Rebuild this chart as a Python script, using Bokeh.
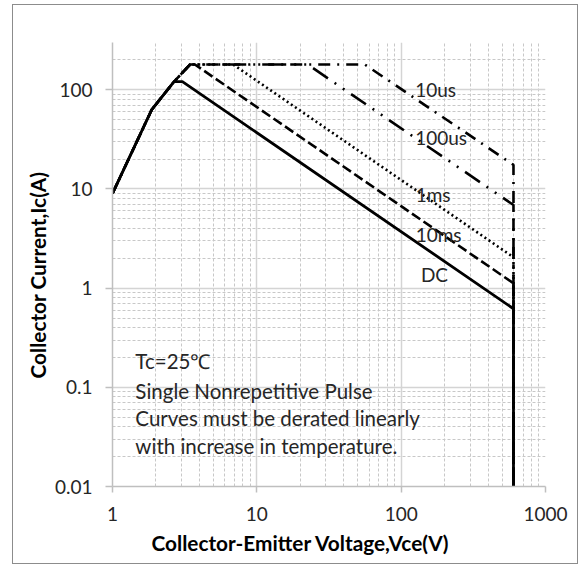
from bokeh.plotting import figure
from bokeh.models import FixedTicker, CustomJSTickFormatter, Title
from bokeh.core.properties import value
from bokeh.embed import file_html
from bokeh.resources import INLINE

# ---- data ----
x_major = [1, 10, 100, 1000]
y_major = [0.01, 0.1, 1, 10, 100]

dc_vce = [1, 1.87, 2.67, 3.05, 600, 600]
dc_ic = [9.0, 63, 121, 121, 0.62, 0.01]

ms10_vce = [1, 1.87, 2.67, 3.45, 3.72, 600, 600]
ms10_ic = [9.0, 63, 121, 180, 180, 1.12, 0.01]

ms1_vce = [1, 1.87, 2.67, 3.45, 6.85, 600, 600]
ms1_ic = [9.0, 63, 121, 180, 180, 2.05, 0.01]

us100_vce = [1, 1.87, 2.67, 3.45, 22.5, 600, 600]
us100_ic = [9.0, 63, 121, 180, 180, 6.9, 0.01]

us10_vce = [1, 1.87, 2.67, 3.45, 56, 600, 600]
us10_ic = [9.0, 63, 121, 180, 180, 17.5, 0.01]

curve_labels = ["10us", "100us", "1ms", "10ms", "DC"]
label_vce = [125, 125, 126, 126, 137]
label_ic = [100, 32.7, 8.7, 3.5, 1.38]

notes = ["Tc=25\u2103", "Single Nonrepetitive Pulse",
         "Curves must be derated linearly", "with increase in temperature."]
notes_ic = [0.185, 0.092, 0.0494, 0.0256]

x_title = "Collector-Emitter Voltage,Vce(V)"
y_title = "Collector Current,Ic(A)"

FONT = "Lato"

p = figure(width=566, height=560, x_axis_type="log", y_axis_type="log",
           x_range=(1, 1000), y_range=(0.01, 300),
           output_backend="svg", toolbar_location=None,
           min_border_left=99, min_border_right=34, min_border_top=37,
           min_border_bottom=79)
p.styles = {"margin-left": "12px", "margin-top": "4px",
            "border": "1px solid #8c8c8c"}
p.outline_line_color = None
p.background_fill_color = "white"
p.border_fill_color = "white"

x_minor = [m * d for d in [1, 10, 100] for m in range(2, 10)]
y_minor = [m * d for d in [0.01, 0.1, 1, 10, 100] for m in range(2, 10) if m * d <= 300.0001]

p.xaxis.ticker = FixedTicker(ticks=x_major, minor_ticks=x_minor)
p.yaxis.ticker = FixedTicker(ticks=y_major, minor_ticks=y_minor)
fmt = "return String(+tick.toPrecision(6));"
p.xaxis.formatter = CustomJSTickFormatter(code=fmt)
p.yaxis.formatter = CustomJSTickFormatter(code=fmt)

for ax in (p.xaxis, p.yaxis):
    ax.axis_line_color = "#bfbfbf"
    ax.axis_line_width = 1.5
    ax.major_tick_line_color = "#bfbfbf"
    ax.major_tick_line_width = 1.5
    ax.major_tick_in = 0
    ax.minor_tick_line_color = None
    ax.major_label_text_font = FONT
    ax.major_label_text_font_size = "19px"
    ax.major_label_text_color = "#262626"

p.xaxis.major_tick_out = 6
p.yaxis.major_tick_out = 7
p.xaxis.major_label_standoff = 14
p.yaxis.major_label_standoff = 13

for g in (p.xgrid, p.ygrid):
    g.grid_line_color = "#d4d4d4"
    g.grid_line_width = 1.5
    g.minor_grid_line_color = "#c8c8c8"
    g.minor_grid_line_width = 1
    g.minor_grid_line_dash = "3 2"

# axis titles as side titles, so they can sit off-centre like the reference
p.add_layout(Title(text=x_title, align="left", offset=39, standoff=8,
                   text_font=FONT, text_font_size="20.8px",
                   text_font_style="bold", text_color="black"), "below")
p.add_layout(Title(text=y_title, align="left", offset=108, standoff=4,
                   text_font=FONT, text_font_size="20.8px",
                   text_font_style="bold", text_color="black"), "left")

LW = 2.6
p.line(us10_vce, us10_ic, line_color="black", line_width=LW, line_dash="12 7 2 7")
p.line(us100_vce, us100_ic, line_color="black", line_width=LW, line_dash="18 8 2 8 2 8")
p.line(ms1_vce, ms1_ic, line_color="black", line_width=LW, line_dash="2 3")
p.line(ms10_vce, ms10_ic, line_color="black", line_width=LW, line_dash="10 4")
p.line(dc_vce, dc_ic, line_color="black", line_width=2.8)

p.text(x=label_vce, y=label_ic, text=curve_labels, text_font=value(FONT),
       text_font_size="19px", text_color="#262626", text_baseline="middle",
       text_align="left")

p.text(x=[1.44] * len(notes), y=notes_ic, text=notes, text_font=value(FONT),
       text_font_size="20.5px", text_color="#262626", text_baseline="middle",
       text_align="left")

open("out.html", "w").write(file_html(p, INLINE))
